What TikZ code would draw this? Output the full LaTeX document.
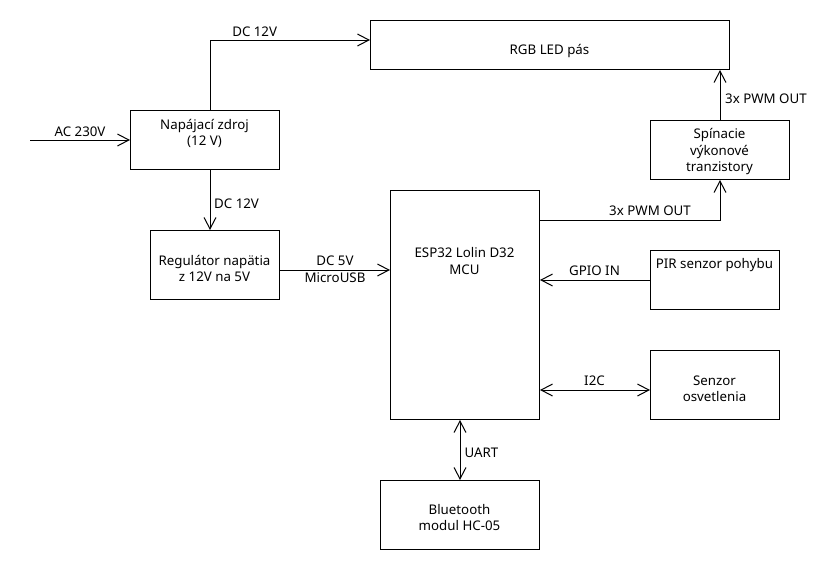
\documentclass[tikz,border=0pt]{standalone}
\usepackage{fontspec}
\setmainfont{Noto Sans}
\usetikzlibrary{arrows.meta}
\begin{document}
\begin{tikzpicture}[x=1pt,y=-1pt,
  box/.style={draw, line width=1pt, rectangle, inner sep=0pt, anchor=north west},
  txt/.style={font=\fontsize{13.3}{16.5}\selectfont, align=center, inner sep=0pt, anchor=base},
  barb/.tip={Straight Barb[length=11.5pt,width=12pt,line width=1pt]},
  wire/.style={line width=1pt, -barb},
  duplex/.style={line width=1pt, barb-barb}
]
\useasboundingbox (0,0) rectangle (840,570);

% blocks
\node[box, minimum width=359pt, minimum height=49pt]  (led) at (370,20)  {};
\node[box, minimum width=149pt, minimum height=59pt]  (psu) at (130,110) {};
\node[box, minimum width=139pt, minimum height=59pt]  (sw)  at (650,120) {};
\node[box, minimum width=129pt, minimum height=69pt]  (reg) at (150,230) {};
\node[box, minimum width=149pt, minimum height=229pt] (esp) at (390,190) {};
\node[box, minimum width=129pt, minimum height=59pt]  (pir) at (650,250) {};
\node[box, minimum width=129pt, minimum height=69pt]  (lux) at (650,350) {};
\node[box, minimum width=159pt, minimum height=69pt]  (bt)  at (380,480) {};

% block captions (base anchor = baseline of the last line)
\node[txt] (ledtxt) at (549.5,54.5) {RGB LED pás};
\node[txt] (psutxt) at (204.5,145.5) {Napájací zdroj\\(12 V)};
\node[txt] (swtxt)  at (719.5,171.5) {Spínacie\\výkonové\\tranzistory};
\node[txt] (regtxt) at (214.5,281.5) {Regulátor napätia\\z 12V na 5V};
\node[txt] (esptxt) at (464.5,274)  {ESP32 Lolin D32\\MCU};
\node[txt] (pirtxt) at (714.5,268)  {PIR senzor pohybu};
\node[txt] (luxtxt) at (714.5,401.5) {Senzor\\osvetlenia};
\node[txt] (bttxt)  at (459.5,530.5) {Bluetooth\\modul HC-05};

% routing helpers
\coordinate (acin) at (30,140);
\coordinate (bus)  at (210,0);
\coordinate (dctop) at (0,40);
\coordinate (usb)  at (0,270);
\coordinate (pwm)  at (720,220);
\coordinate (i2c)  at (0,390);

% connectors
\draw[wire] (acin) -- (psu.west |- acin);
\draw[wire] (psu.north -| bus) |- (led.west |- dctop);
\draw[wire] (psu.south -| bus) -- (reg.north -| bus);
\draw[wire] (reg.east |- usb) -- (esp.west |- usb);
\draw[wire] (esp.east |- pwm) -| (sw.south);
\draw[wire] (sw.north) -- (led.south -| sw.north);
\draw[wire] (pir.west) -- (esp.east |- pir.west);
\draw[duplex] (esp.east |- i2c) -- (lux.west |- i2c);
\draw[duplex] (esp.south -| bt.north) -- (bt.north);

% connector labels
\node[txt] (lac)   at (80,136)      {AC 230V};
\node[txt] (ldc1)  at (254.7,36)    {DC 12V};
\node[txt, anchor=base west] (ldc2) at (214,208) {DC 12V};
\node[txt] (lusb)  at (335,282)     {DC 5V\\MicroUSB};
\node[txt] (lpwm1) at (650,215.5)   {3x PWM OUT};
\node[txt, anchor=base west] (lpwm2) at (725,103) {3x PWM OUT};
\node[txt] (lgpio) at (594.5,275.3) {GPIO IN};
\node[txt] (li2c)  at (594.5,385.3) {I2C};
\node[txt, anchor=base west] (luart) at (464.3,457.7) {UART};
\end{tikzpicture}
\end{document}
